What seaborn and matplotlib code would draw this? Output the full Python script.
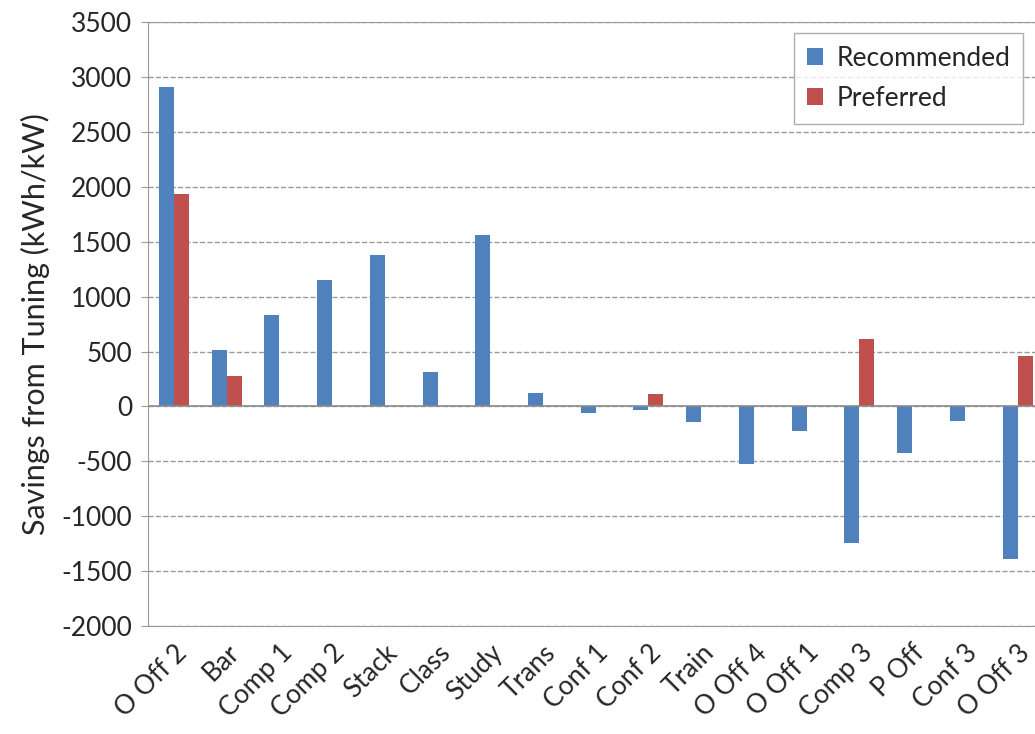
import pandas as pd
import matplotlib.pyplot as plt
import seaborn as sns

# Podaci očitani sa slike
categories = ['O Off 2', 'Bar', 'Comp 1', 'Comp 2', 'Stack', 'Class', 'Study', 'Trans',
              'Conf 1', 'Conf 2', 'Train', 'O Off 4', 'O Off 1', 'Comp 3', 'P Off',
              'Conf 3', 'O Off 3']
recommended = [2910, 510, 830, 1150, 1380, 310, 1560, 120,
               -60, -35, -140, -525, -225, -1240, -420, -130, -1390]
preferred = [1930, 280, 0, 0, 0, 0, 0, 0,
             0, 110, 0, 0, 0, 610, 0, 0, 460]
series_names = ['Recommended', 'Preferred']
colors = ['#4F81BD', '#C0504D']

df = pd.DataFrame({
    'name': categories * 2,
    'value': recommended + preferred,
    'series': [series_names[0]] * len(categories) + [series_names[1]] * len(categories),
})

sns.set_style("white")
plt.rcParams['font.family'] = ['Lato', 'DejaVu Sans']
plt.rcParams['axes.unicode_minus'] = False

fig = plt.figure(figsize=(10.35, 7.34), dpi=100)
ax = fig.add_axes([0.1426, 0.147, 0.866, 0.823])

sns.barplot(data=df, x='name', y='value', hue='series', hue_order=series_names,
            palette=colors, width=0.57, linewidth=0, saturation=1, ax=ax)

ax.set_ylim(-2000, 3500)
ax.set_yticks(range(-2000, 3501, 500))
ax.set_xlim(-0.5, len(categories) - 0.5)
ax.yaxis.grid(True, linestyle='--', color='#9a9a9a', linewidth=1)
ax.set_axisbelow(True)
ax.axhline(0, color='#8c8c8c', linewidth=1.2)

for s in ['top', 'right']:
    ax.spines[s].set_visible(True)
    ax.spines[s].set_color('#9a9a9a')
for s in ['left', 'bottom']:
    ax.spines[s].set_color('#9a9a9a')

ax.tick_params(axis='y', labelsize=19, length=5, color='#9a9a9a', left=True, pad=6)
ax.tick_params(axis='x', length=0, pad=10)
ax.set_xticks(range(len(categories)))
ax.set_xticklabels(categories, rotation=45, ha='right', rotation_mode='anchor', fontsize=19)

ax.set_xlabel('')
ax.set_ylabel('Savings from Tuning (kWh/kW)', fontsize=22, labelpad=8)

ax.legend(loc='upper right', bbox_to_anchor=(0.977, 0.982), borderaxespad=0, fontsize=19,
          frameon=True, fancybox=False, edgecolor='#9a9a9a', handlelength=0.6,
          handleheight=0.6, handletextpad=0.5, borderpad=0.5, labelspacing=0.55)

plt.savefig('out.png', dpi=100)
